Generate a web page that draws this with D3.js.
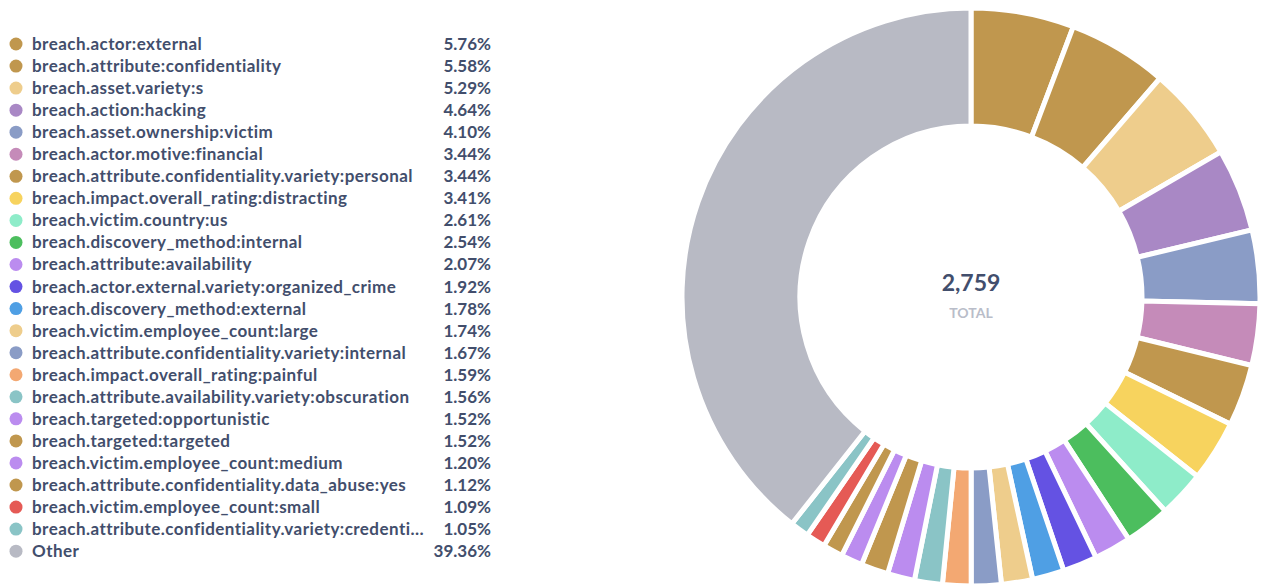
<!DOCTYPE html>
<html>
<head>
<meta charset="utf-8">
<script src="https://cdn.jsdelivr.net/npm/d3@7"></script>
<style>
  html, body { margin: 0; padding: 0; background: #fff; }
  svg { display: block; font-family: Lato, "Noto Sans", sans-serif; }
</style>
</head>
<body>
<svg id="chart" width="1266" height="587"></svg>
<script>
// Tag labels, their share of all breaches (%), and slice colours
const labels = [
  "breach.actor:external",
  "breach.attribute:confidentiality",
  "breach.asset.variety:s",
  "breach.action:hacking",
  "breach.asset.ownership:victim",
  "breach.actor.motive:financial",
  "breach.attribute.confidentiality.variety:personal",
  "breach.impact.overall_rating:distracting",
  "breach.victim.country:us",
  "breach.discovery_method:internal",
  "breach.attribute:availability",
  "breach.actor.external.variety:organized_crime",
  "breach.discovery_method:external",
  "breach.victim.employee_count:large",
  "breach.attribute.confidentiality.variety:internal",
  "breach.impact.overall_rating:painful",
  "breach.attribute.availability.variety:obscuration",
  "breach.targeted:opportunistic",
  "breach.targeted:targeted",
  "breach.victim.employee_count:medium",
  "breach.attribute.confidentiality.data_abuse:yes",
  "breach.victim.employee_count:small",
  "breach.attribute.confidentiality.variety:credentials",
  "Other"
];
const percents = [5.76, 5.58, 5.29, 4.64, 4.10, 3.44, 3.44, 3.41, 2.61, 2.54, 2.07, 1.92,
                  1.78, 1.74, 1.67, 1.59, 1.56, 1.52, 1.52, 1.20, 1.12, 1.09, 1.05, 39.36];
const colors = [
  "#c0974e", "#c0974e", "#eecd8c", "#a988c5", "#8a9cc6", "#c58bb9", "#c0974e", "#f7d35e",
  "#8eecc9", "#4cbe5e", "#bb8cef", "#6452e3", "#4f9fe4", "#eecd8c", "#8a9cc6", "#f3a872",
  "#8ac4c6", "#bb8cef", "#c0974e", "#bb8cef", "#c0974e", "#e55a55", "#8ac4c6", "#b8bac4"
];
const total = 2759;

const svg = d3.select("#chart");
const textColor = "#424e6c";

// ---- Legend ----
const rowH = 22.05, legendTop = 44;
const maxLabelWidth = 398;
const legend = svg.append("g").attr("class", "legend");
const rows = legend.selectAll("g.row")
  .data(labels.map((l, i) => ({ label: l, pct: percents[i], color: colors[i] })))
  .join("g")
  .attr("class", "row")
  .attr("transform", (d, i) => `translate(0,${legendTop + i * rowH})`);

rows.append("circle")
  .attr("cx", 16).attr("cy", 0).attr("r", 6.5)
  .attr("fill", d => d.color);

rows.append("text")
  .attr("x", 32).attr("y", 0).attr("dy", "0.35em")
  .attr("font-size", 17).attr("font-weight", 700)
  .attr("letter-spacing", 0.45)
  .attr("fill", textColor)
  .text(d => d.label)
  .each(function (d) {
    // shorten long labels with an ellipsis so they stay clear of the value column
    const t = d3.select(this);
    let s = d.label;
    if (this.getComputedTextLength() <= maxLabelWidth) return;
    while (s.length > 1) {
      s = s.slice(0, -1);
      t.text(s + "…");
      if (this.getComputedTextLength() <= maxLabelWidth) break;
    }
  });

rows.append("text")
  .attr("x", 491).attr("y", 0).attr("dy", "0.35em")
  .attr("text-anchor", "end")
  .attr("font-size", 17).attr("font-weight", 700)
  .attr("fill", textColor)
  .text(d => d.pct.toFixed(2) + "%");

// ---- Donut ----
const cx = 971, cy = 297, outerR = 289, innerR = 171;
const pie = d3.pie().sort(null).value(d => d)(percents);
const arc = d3.arc().innerRadius(innerR).outerRadius(outerR);

const donut = svg.append("g").attr("transform", `translate(${cx},${cy})`);
donut.selectAll("path")
  .data(pie)
  .join("path")
  .attr("d", arc)
  .attr("fill", (d, i) => colors[i])
  .attr("stroke", "#fff")
  .attr("stroke-width", 5)
  .attr("stroke-linejoin", "miter");

donut.append("text")
  .attr("y", -6).attr("text-anchor", "middle")
  .attr("font-size", 23).attr("font-weight", 700)
  .attr("fill", textColor)
  .text(d3.format(",")(total));

donut.append("text")
  .attr("y", 21).attr("text-anchor", "middle")
  .attr("font-size", 14).attr("font-weight", 700)
  .attr("fill", "#b9bdc9")
  .text("TOTAL");
</script>
</body>
</html>
